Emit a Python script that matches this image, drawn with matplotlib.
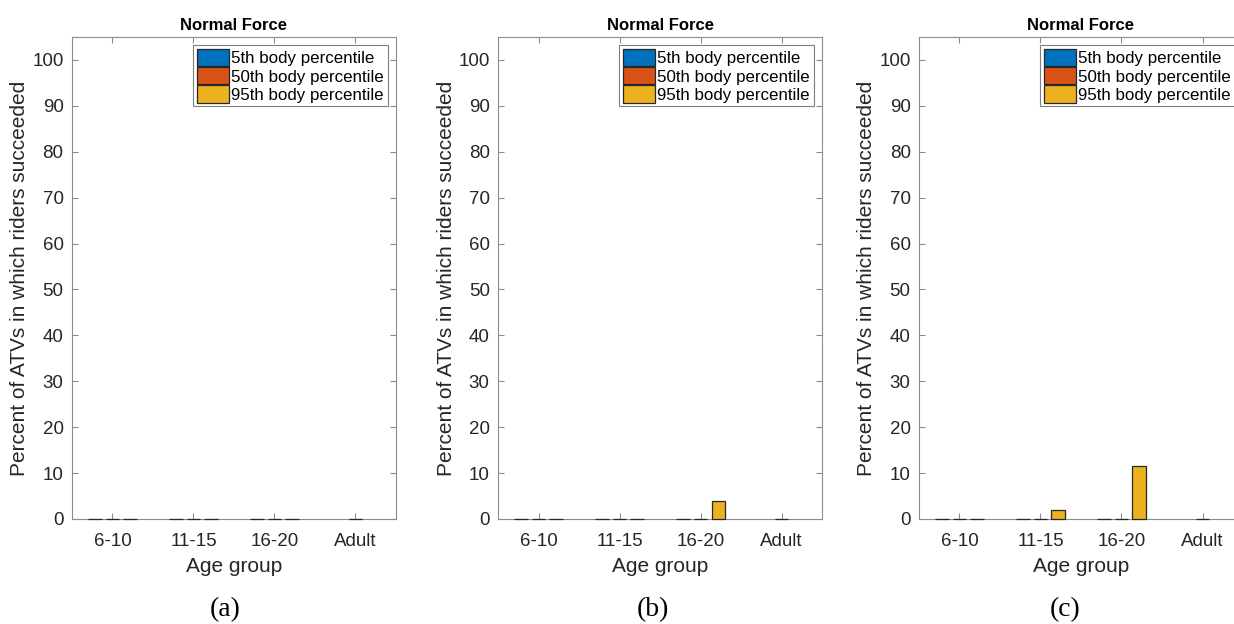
import numpy as np
import matplotlib
matplotlib.use("Agg")
from matplotlib import pyplot as plt

age_groups = ["6-10", "11-15", "16-20", "Adult"]
series_names = ["5th body percentile", "50th body percentile", "95th body percentile"]
colors = ["#0072BD", "#D95319", "#EDB120"]
captions = ["(a)", "(b)", "(c)"]

# percent succeeded per panel, rows = body percentile, cols = age group (nan = no data)
panel_a = [[0, 0, 0, np.nan],
           [0, 0, 0, 0],
           [0, 0, 0, np.nan]]
panel_b = [[0, 0, 0, np.nan],
           [0, 0, 0, 0],
           [0, 0, 3.85, np.nan]]
panel_c = [[0, 0, 0, np.nan],
           [0, 0, 0, 0],
           [0, 2.0, 11.5, np.nan]]
panels = [panel_a, panel_b, panel_c]

plt.rcParams["font.family"] = ["Liberation Sans", "DejaVu Sans"]

fig = plt.figure(figsize=(12.34, 6.24), dpi=100)
lefts = [0.0583, 0.4036, 0.7447]
caption_x = [0.1823, 0.5292, 0.8630]
width = 0.2626
bottom, height = 0.1683, 0.7724

x = np.arange(1, len(age_groups) + 1)
offsets = [-0.22, 0.0, 0.22]
spine_col = "#8c8c8c"
text_col = "#262626"

for i, data in enumerate(panels):
    ax = fig.add_axes([lefts[i], bottom, width, height])
    for k in range(3):
        ax.bar(x + offsets[k], data[k], width=0.17, color=colors[k],
               edgecolor="#262626", linewidth=0.9, label=series_names[k],
               zorder=3, clip_on=False)
    ax.set_xlim(0.5, 4.5)
    ax.set_ylim(0, 105)
    ax.set_xticks(x)
    ax.set_xticklabels(age_groups)
    ax.set_yticks(range(0, 101, 10))
    ax.tick_params(direction="in", top=True, right=True, labelsize=13.5,
                   colors=spine_col, labelcolor=text_col, length=4, pad=6)
    ax.tick_params(axis="x", pad=10)
    for s in ax.spines.values():
        s.set_color(spine_col)
        s.set_linewidth(0.8)
    ax.set_title("Normal Force", fontsize=12, fontweight="bold", pad=5)
    ax.set_xlabel("Age group", fontsize=15, color=text_col, labelpad=5)
    ax.set_ylabel("Percent of ATVs in which riders succeeded", fontsize=15,
                  color=text_col, labelpad=2)
    leg = ax.legend(loc="upper right", fontsize=12.2, handlelength=1.9,
                    handleheight=1.2, handletextpad=0.15, labelspacing=0.05,
                    borderpad=0.2, borderaxespad=0.5, fancybox=False,
                    framealpha=1, edgecolor="#7f7f7f")
    leg.get_frame().set_linewidth(0.8)
    leg.set_zorder(5)
    fig.text(caption_x[i], 0.012, captions[i], fontsize=20,
             family=["Liberation Serif", "DejaVu Serif"],
             ha="center", va="baseline")

fig.savefig("out.png", dpi=100)
